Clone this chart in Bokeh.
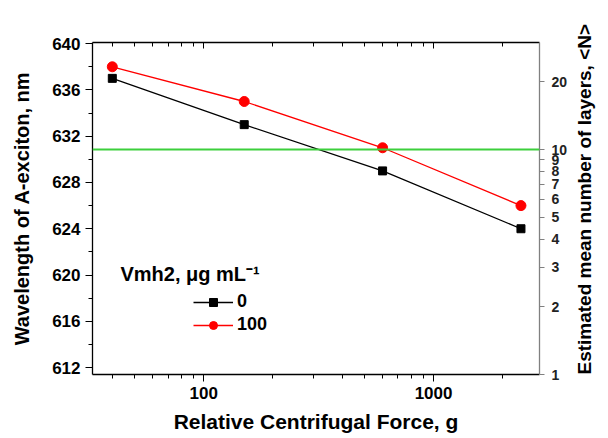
import math
from bokeh.plotting import figure
from bokeh.models import (Range1d, LogScale, LogAxis, FixedTicker, NumeralTickFormatter,
                          Span, Legend, LegendItem, Label, CustomJSTickFormatter)
from bokeh.embed import file_html
from bokeh.resources import INLINE

# ---- data ----
rcf = [40, 150, 600, 2400]
wl_0 = [637, 633, 629, 624]
wl_100 = [638, 635, 631, 626]
series_labels = ["0", "100"]
legend_title = "Vmh2, \u03bcg mL\u207b\u00b9"
n_threshold = 10
x_ticks = [100, 1000]
x_minor = [40, 50, 60, 70, 80, 90, 200, 300, 400, 500, 600, 700, 800, 900, 2000]
left_ticks = [612, 616, 620, 624, 628, 632, 636, 640]
left_minor = [614, 618, 622, 626, 630, 634, 638]
right_ticks = [1, 2, 3, 4, 5, 6, 7, 8, 9, 10, 20]
x_title = "Relative Centrifugal Force, g"
y_title = "Wavelength of A-exciton, nm"
y2_title = "Estimated mean number of layers, <N>"

FONT = "Liberation Sans"

p = figure(width=608, height=438, x_axis_type="log",
           x_range=Range1d(32.8, 2890), y_range=Range1d(611.4, 640.1),
           output_backend="svg", toolbar_location=None,
           min_border_left=92, min_border_right=65, min_border_top=42, min_border_bottom=64)
p.outline_line_color = None
p.grid.visible = False
p.background_fill_color = "white"

p.extra_y_ranges = {"n": Range1d(1, 29.9)}
p.extra_y_scales = {"n": LogScale()}

def style_axis(ax, label_size="17px"):
    ax.axis_line_color = "black"
    ax.axis_line_width = 1.3
    ax.major_tick_line_color = "black"
    ax.minor_tick_line_color = "black"
    ax.major_label_text_font = FONT
    ax.major_label_text_font_style = "bold"
    ax.major_label_text_font_size = label_size
    ax.major_label_text_color = "black"
    ax.axis_label_text_font = FONT
    ax.axis_label_text_font_style = "bold"
    ax.axis_label_text_font_size = "20px"
    ax.axis_label_text_color = "black"

# bottom axis
xa = p.xaxis[0]
style_axis(xa)
xa.ticker = FixedTicker(ticks=x_ticks, minor_ticks=x_minor)
xa.formatter = NumeralTickFormatter(format="0")
xa.major_tick_out = 7
xa.major_tick_in = 0
xa.minor_tick_out = 4
xa.minor_tick_in = 0
xa.major_label_standoff = 5
xa.axis_label = x_title
xa.axis_label_text_font_size = "21px"
xa.axis_label_standoff = 8

# left axis
ya = p.yaxis[0]
style_axis(ya)
ya.ticker = FixedTicker(ticks=left_ticks, minor_ticks=left_minor)
ya.major_tick_out = 7
ya.major_tick_in = 0
ya.minor_tick_out = 4
ya.minor_tick_in = 0
ya.major_label_standoff = 5
ya.axis_label = y_title
ya.axis_label_standoff = 16

# top mirror axis
top = LogAxis(ticker=FixedTicker(ticks=x_ticks, minor_ticks=x_minor),
              formatter=CustomJSTickFormatter(code="return ''"))
style_axis(top)
top.major_tick_in = 6
top.major_tick_out = 0
top.minor_tick_in = 4
top.minor_tick_out = 0
top.major_label_standoff = 0
p.add_layout(top, "above")

# right axis (number of layers)
ra = LogAxis(y_range_name="n", ticker=FixedTicker(ticks=right_ticks, minor_ticks=[]),
             formatter=NumeralTickFormatter(format="0"))
style_axis(ra, label_size="14px")
ra.axis_label_text_font_size = "19px"
ra.axis_line_color = "#808080"
ra.major_tick_line_color = "#808080"
ra.major_tick_out = 5
ra.major_tick_in = 0
ra.major_label_standoff = 7
ra.major_label_text_color = "#222222"
ra.axis_label = y2_title
ra.axis_label_standoff = 14
ra.axis_label_text_baseline = "top"
if "axis_label_orientation" in ra.properties():
    ra.axis_label_orientation = math.pi / 2
if "axis_label_align" in ra.properties():
    ra.axis_label_align = "start"
p.add_layout(ra, "right")

# threshold line
p.add_layout(Span(location=n_threshold, dimension="width", y_range_name="n",
                  line_color="#3ccf3c", line_width=2))

# series
l0 = p.line(rcf, wl_0, line_color="black", line_width=1.3)
s0 = p.scatter(rcf, wl_0, marker="square", size=8, fill_color="black", line_color="black")
l1 = p.line(rcf, wl_100, line_color="#ff0000", line_width=1.3)
s1 = p.scatter(rcf, wl_100, marker="circle", size=10, fill_color="#ff0000", line_color="#ff0000")

legend = Legend(items=[LegendItem(label=series_labels[0], renderers=[l0, s0]),
                       LegendItem(label=series_labels[1], renderers=[l1, s1])],
                location=(101, 39), glyph_width=40, glyph_height=20,
                label_text_font=FONT, label_text_font_style="bold", label_text_font_size="18px",
                label_text_color="black",
                label_height=20, spacing=2, label_standoff=4, padding=0, margin=0,
                background_fill_alpha=0, border_line_alpha=0)
p.add_layout(legend)

p.add_layout(Label(x=28, y=101, x_units="screen", y_units="screen", text=legend_title,
                   text_font=FONT, text_font_style="bold", text_font_size="20px",
                   text_baseline="alphabetic", text_color="black"))

open("out.html", "w").write(file_html(p, INLINE))
